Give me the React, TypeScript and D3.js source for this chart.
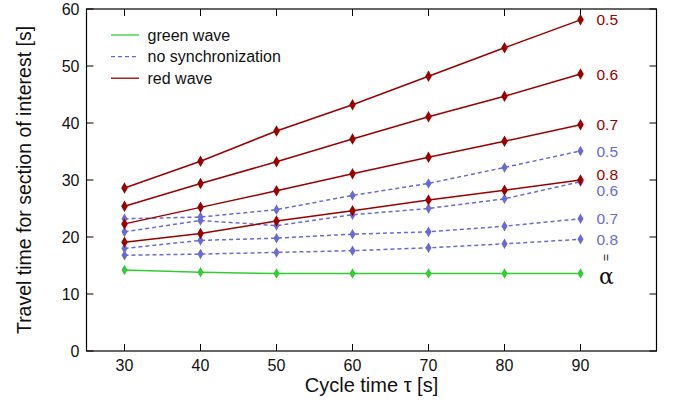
import React from "react";
import { scaleLinear, line, symbol, symbolDiamond } from "d3";

const width = 675;
const height = 405;
const margin = { top: 9, right: 18.5, bottom: 54, left: 86.5 };

// cycle times (x)
const cycleTimes = [30, 40, 50, 60, 70, 80, 90];

// red wave, alpha = 0.5 .. 0.8
const red05 = [28.6, 33.3, 38.6, 43.2, 48.2, 53.2, 58.1];
const red06 = [25.4, 29.4, 33.2, 37.2, 41.1, 44.7, 48.6];
const red07 = [22.3, 25.2, 28.1, 31.1, 34.0, 36.8, 39.7];
const red08 = [19.1, 20.6, 22.8, 24.6, 26.5, 28.2, 30.0];

// no synchronization
const blue05 = [23.2, 23.5, 24.8, 27.3, 29.4, 32.2, 35.1];
const blue06 = [20.9, 22.9, 22.0, 23.9, 25.0, 26.7, 29.7];
const blue07 = [18.0, 19.4, 19.8, 20.5, 20.9, 21.9, 23.2];
const blue08 = [16.8, 17.0, 17.3, 17.6, 18.1, 18.8, 19.6];

// green wave
const green = [14.2, 13.8, 13.6, 13.6, 13.6, 13.6, 13.6];

const xTicks = [30, 40, 50, 60, 70, 80, 90];
const yTicks = [0, 10, 20, 30, 40, 50, 60];

const RED = "#990000";
const BLUE = "#6a6ad4";
const GREEN = "#33cc33";
const FONT = "'Liberation Sans', Arial, sans-serif";

const redSeries = [
  { label: "0.5", values: red05 },
  { label: "0.6", values: red06 },
  { label: "0.7", values: red07 },
  { label: "0.8", values: red08 },
];
const blueSeries = [
  { label: "0.5", values: blue05 },
  { label: "0.6", values: blue06 },
  { label: "0.7", values: blue07 },
  { label: "0.8", values: blue08 },
];

// small nudges so the overlapping end labels stay readable
const labelShift: Record<string, number> = { "red0.8": -6, "blue0.6": 8.5 };

export default function App() {
  const innerWidth = width - margin.left - margin.right;
  const innerHeight = height - margin.top - margin.bottom;

  const xScale = scaleLinear().domain([25, 100]).range([0, innerWidth]);
  const yScale = scaleLinear().domain([0, 60]).range([innerHeight, 0]);

  const lineGen = line<number>()
    .x((_, i) => xScale(cycleTimes[i]))
    .y((d) => yScale(d));

  const diamond = symbol().type(symbolDiamond).size(38)() as string;
  const diamondSmall = symbol().type(symbolDiamond).size(32)() as string;

  const drawSeries = (
    values: number[],
    color: string,
    dash: string | undefined,
    marker: string,
    key: string
  ) => (
    <g key={key}>
      <path
        d={lineGen(values) || ""}
        fill="none"
        stroke={color}
        strokeWidth={1.5}
        strokeDasharray={dash}
      />
      {values.map((v, i) => (
        <path
          key={i}
          d={marker}
          transform={`translate(${xScale(cycleTimes[i])},${yScale(v)})`}
          fill={color}
        />
      ))}
    </g>
  );

  const labelX = xScale(90) + 16;
  const eqY = yScale(green[6]) - 16;

  return (
    <svg
      width={width}
      height={height}
      style={{ position: "absolute", left: 0, top: 0, background: "#fff" }}
      fontFamily={FONT}
    >
      <g transform={`translate(${margin.left},${margin.top})`}>
        {/* frame */}
        <rect
          x={0}
          y={0}
          width={innerWidth}
          height={innerHeight}
          fill="none"
          stroke="#000"
          strokeWidth={1.2}
        />

        {/* x ticks (bottom and mirrored top) */}
        {xTicks.map((t) => (
          <g key={`x${t}`}>
            <line x1={xScale(t)} x2={xScale(t)} y1={innerHeight} y2={innerHeight - 7} stroke="#000" />
            <line x1={xScale(t)} x2={xScale(t)} y1={0} y2={7} stroke="#000" />
            <text
              x={xScale(t)}
              y={innerHeight + 20}
              textAnchor="middle"
              fontSize={16}
              fill="#111"
            >
              {t}
            </text>
          </g>
        ))}

        {/* y ticks (left and mirrored right) */}
        {yTicks.map((t) => (
          <g key={`y${t}`}>
            <line x1={0} x2={7} y1={yScale(t)} y2={yScale(t)} stroke="#000" />
            <line x1={innerWidth} x2={innerWidth - 7} y1={yScale(t)} y2={yScale(t)} stroke="#000" />
            <text
              x={-7}
              y={yScale(t)}
              dy="0.36em"
              textAnchor="end"
              fontSize={16}
              fill="#111"
            >
              {t}
            </text>
          </g>
        ))}

        {/* series */}
        {drawSeries(green, GREEN, undefined, diamondSmall, "green")}
        {blueSeries.map((s) => drawSeries(s.values, BLUE, "4,3", diamondSmall, `b${s.label}`))}
        {redSeries.map((s) => drawSeries(s.values, RED, undefined, diamond, `r${s.label}`))}

        {/* alpha labels at right end */}
        {redSeries.map((s) => (
          <text
            key={`rl${s.label}`}
            x={labelX}
            y={yScale(s.values[6]) + (labelShift[`red${s.label}`] || 0)}
            dy="0.36em"
            fontSize={15.5}
            fill={RED}
          >
            {s.label}
          </text>
        ))}
        {blueSeries.map((s) => (
          <text
            key={`bl${s.label}`}
            x={labelX}
            y={yScale(s.values[6]) + (labelShift[`blue${s.label}`] || 0)}
            dy="0.36em"
            fontSize={15.5}
            fill={BLUE}
          >
            {s.label}
          </text>
        ))}
        <text
          x={labelX + 9}
          y={eqY}
          fontSize={12}
          textAnchor="middle"
          dominantBaseline="central"
          transform={`rotate(90 ${labelX + 9} ${eqY})`}
          fill="#111"
        >
          =
        </text>
        <text
          x={labelX + 10}
          y={yScale(green[6]) + 11}
          fontSize={22}
          textAnchor="middle"
          fontFamily="'DejaVu Serif', 'Liberation Serif', serif"
          fill="#111"
        >
          α
        </text>

        {/* legend */}
        <g transform="translate(24.5, 26)">
          {[
            { label: "green wave", color: GREEN, dash: undefined },
            { label: "no synchronization", color: BLUE, dash: "4,3" },
            { label: "red wave", color: RED, dash: undefined },
          ].map((d, i) => (
            <g key={d.label} transform={`translate(0, ${i * 21.6})`}>
              <line x1={0} x2={28} y1={0} y2={0} stroke={d.color} strokeWidth={1.3} strokeDasharray={d.dash} />
              <text x={36.5} y={0} dy="0.36em" fontSize={16} fill="#111">
                {d.label}
              </text>
            </g>
          ))}
        </g>
      </g>

      {/* axis titles */}
      <text
        x={margin.left + innerWidth / 2}
        y={392}
        textAnchor="middle"
        fontSize={20}
        fill="#111"
      >
        Cycle time τ [s]
      </text>
      <text
        transform={`translate(31, ${margin.top + innerHeight / 2}) rotate(-90)`}
        textAnchor="middle"
        fontSize={19.5}
        fill="#111"
      >
        Travel time for section of interest [s]
      </text>
    </svg>
  );
}
